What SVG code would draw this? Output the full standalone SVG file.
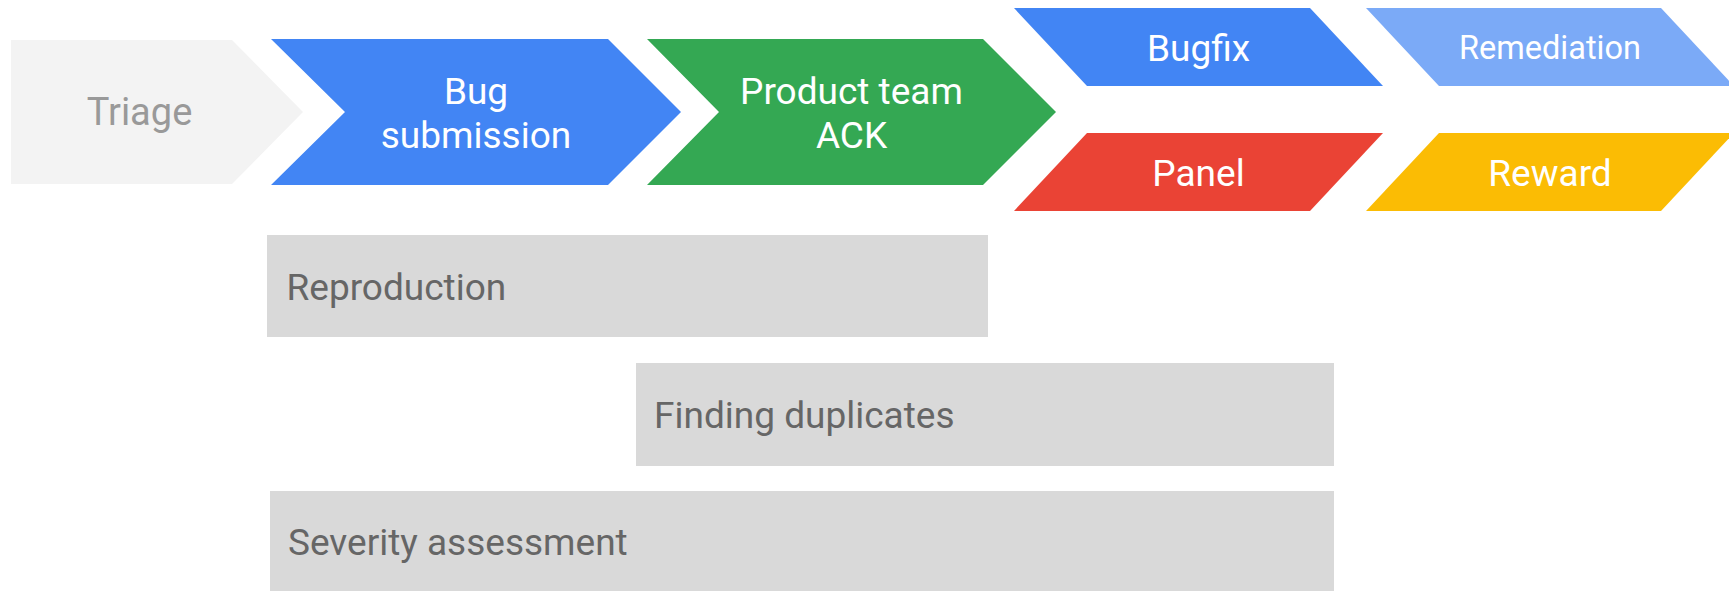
<svg xmlns="http://www.w3.org/2000/svg" width="1729" height="591" viewBox="0 0 1729 591">
<style>
text{font-family:Roboto,"Liberation Sans",sans-serif;font-size:37px}
.c{text-anchor:middle;fill:#ffffff}
.g{fill:#666666}
.bar{fill:#d9d9d9}
</style>
<rect width="1729" height="591" fill="#ffffff"/>
<g id="triage">
<polygon points="11,40 232,40 303,112 232,184 11,184" fill="#f3f3f3"/>
<text x="139.5" y="125" text-anchor="middle" fill="#999999" style="font-size:38px">Triage</text>
</g>
<g id="bug-submission">
<polygon points="271,39 608,39 681,112 608,185 271,185 345,112" fill="#4285f4"/>
<text class="c" x="476" y="104">Bug</text>
<text class="c" x="476" y="147.5">submission</text>
</g>
<g id="product-team-ack">
<polygon points="647,39 983,39 1056,112 983,185 647,185 719,112" fill="#34a853"/>
<text class="c" x="851.5" y="104">Product team</text>
<text class="c" x="851.5" y="147.5">ACK</text>
</g>
<g id="bugfix">
<polygon points="1014,8 1310,8 1383,86 1087,86" fill="#4285f4"/>
<text class="c" x="1198.5" y="60.5">Bugfix</text>
</g>
<g id="panel">
<polygon points="1087,133 1383,133 1310,211 1014,211" fill="#ea4335"/>
<text class="c" x="1198.5" y="185.5">Panel</text>
</g>
<g id="remediation">
<polygon points="1366,8 1661,8 1734,86 1439,86" fill="#7baaf7"/>
<text class="c" x="1550" y="58.5" style="font-size:32.5px">Remediation</text>
</g>
<g id="reward">
<polygon points="1439,133 1734,133 1661,211 1366,211" fill="#fbbc04"/>
<text class="c" x="1550" y="185.5">Reward</text>
</g>
<g id="reproduction">
<rect class="bar" x="267" y="235" width="721" height="102"/>
<text class="g" x="286.5" y="299.5">Reproduction</text>
</g>
<g id="finding-duplicates">
<rect class="bar" x="636" y="363" width="698" height="103"/>
<text class="g" x="654" y="428">Finding duplicates</text>
</g>
<g id="severity-assessment">
<rect class="bar" x="270" y="491" width="1064" height="110"/>
<text class="g" x="288" y="555">Severity assessment</text>
</g>
<g id="connectors"/>
</svg>
